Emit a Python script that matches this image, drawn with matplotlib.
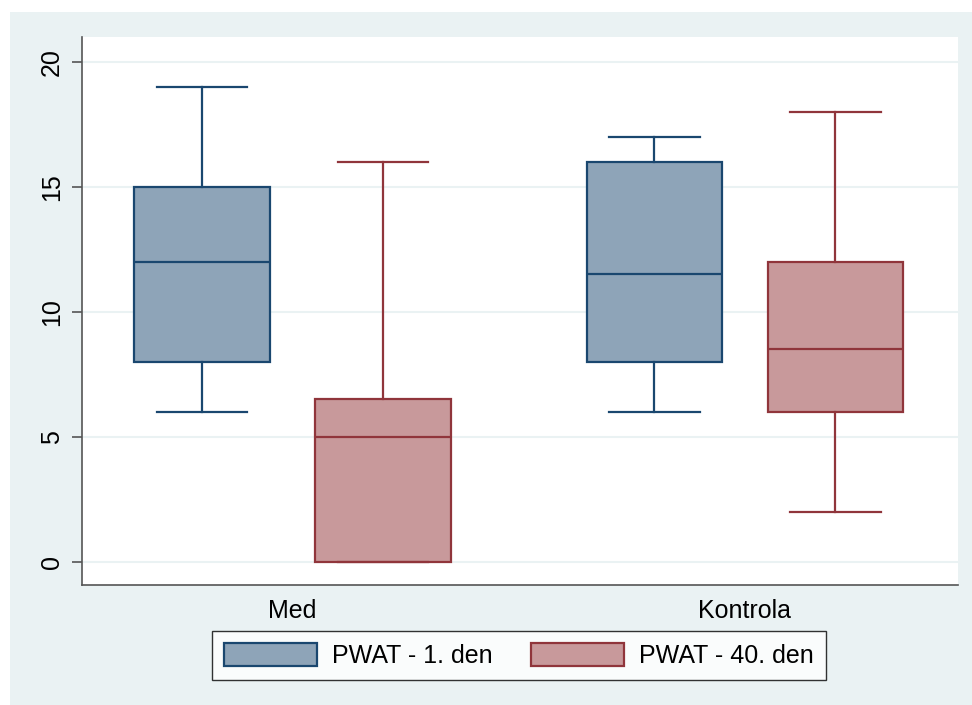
import matplotlib
matplotlib.use('Agg')
import matplotlib.pyplot as plt
from matplotlib.patches import Patch, Rectangle

plt.rcParams['font.family'] = ['Liberation Sans', 'DejaVu Sans']

groups = ['Med', 'Kontrola']
series = ['PWAT - 1. den', 'PWAT - 40. den']

# per group: [PWAT 1. den, PWAT 40. den] as (whislo, q1, med, q3, whishi)
med_stats = [(6, 8, 12, 15, 19), (0, 0, 5, 6.5, 16)]
kontrola_stats = [(6, 8, 11.5, 16, 17), (2, 6, 8.5, 12, 18)]

edge_cols = ['#1a476f', '#90353b']
fill_cols = ['#8ea4b8', '#c8999b']
bg = '#eaf2f3'

fig = plt.figure(figsize=(9.72, 7.05), dpi=100, facecolor='white')
fig.patches.append(Rectangle((10/972, 0), 1, (705-12)/705, transform=fig.transFigure,
                             facecolor=bg, edgecolor='none', zorder=-10))
ax = fig.add_axes([82/972, 120/705, 876/972, 548/705])
ax.set_facecolor('white')

positions = [[0, 1], [2.5, 3.5]]
for g, stats in enumerate([med_stats, kontrola_stats]):
    for s, (lo, q1, md, q3, hi) in enumerate(stats):
        d = dict(whislo=lo, q1=q1, med=md, q3=q3, whishi=hi, fliers=[])
        c = edge_cols[s]
        ax.bxp([d], positions=[positions[g][s]], widths=0.75, patch_artist=True,
               showfliers=False, manage_ticks=False,
               boxprops=dict(facecolor=fill_cols[s], edgecolor=c, linewidth=1.6),
               medianprops=dict(color=c, linewidth=1.6),
               whiskerprops=dict(color=c, linewidth=1.6),
               capprops=dict(color=c, linewidth=1.6),
               capwidths=0.5)

ax.set_xlim(-0.663, 4.177)
ax.set_ylim(-0.93, 21.0)
ax.set_yticks([0, 5, 10, 15, 20])
ax.set_xticks([0.5, 3.0])
ax.set_xticklabels(groups)
ax.grid(axis='y', color=bg, linewidth=1.5)
ax.set_axisbelow(True)
for sp in ['top', 'right']:
    ax.spines[sp].set_visible(False)
for sp in ['left', 'bottom']:
    ax.spines[sp].set_color('#555555')
    ax.spines[sp].set_linewidth(1.2)
ax.tick_params(axis='y', length=7, width=1.2, color='#555555', pad=6, labelsize=18)
ax.tick_params(axis='x', length=0, pad=10, labelsize=18)
for t in ax.get_yticklabels():
    t.set_rotation(90)
    t.set_va('center')

handles = [Patch(facecolor=fill_cols[i], edgecolor=edge_cols[i], linewidth=1.6) for i in range(2)]
leg = fig.legend(handles, series, loc='center', bbox_to_anchor=(0.534, 0.0702), ncol=2,
                 fontsize=18, frameon=True, fancybox=False, edgecolor='black',
                 handlelength=3.7, handleheight=1.0, handletextpad=0.6, columnspacing=1.55,
                 borderpad=0.5, borderaxespad=0)
leg.get_frame().set_linewidth(1.0)

fig.savefig('out.png', dpi=100, facecolor='white')
